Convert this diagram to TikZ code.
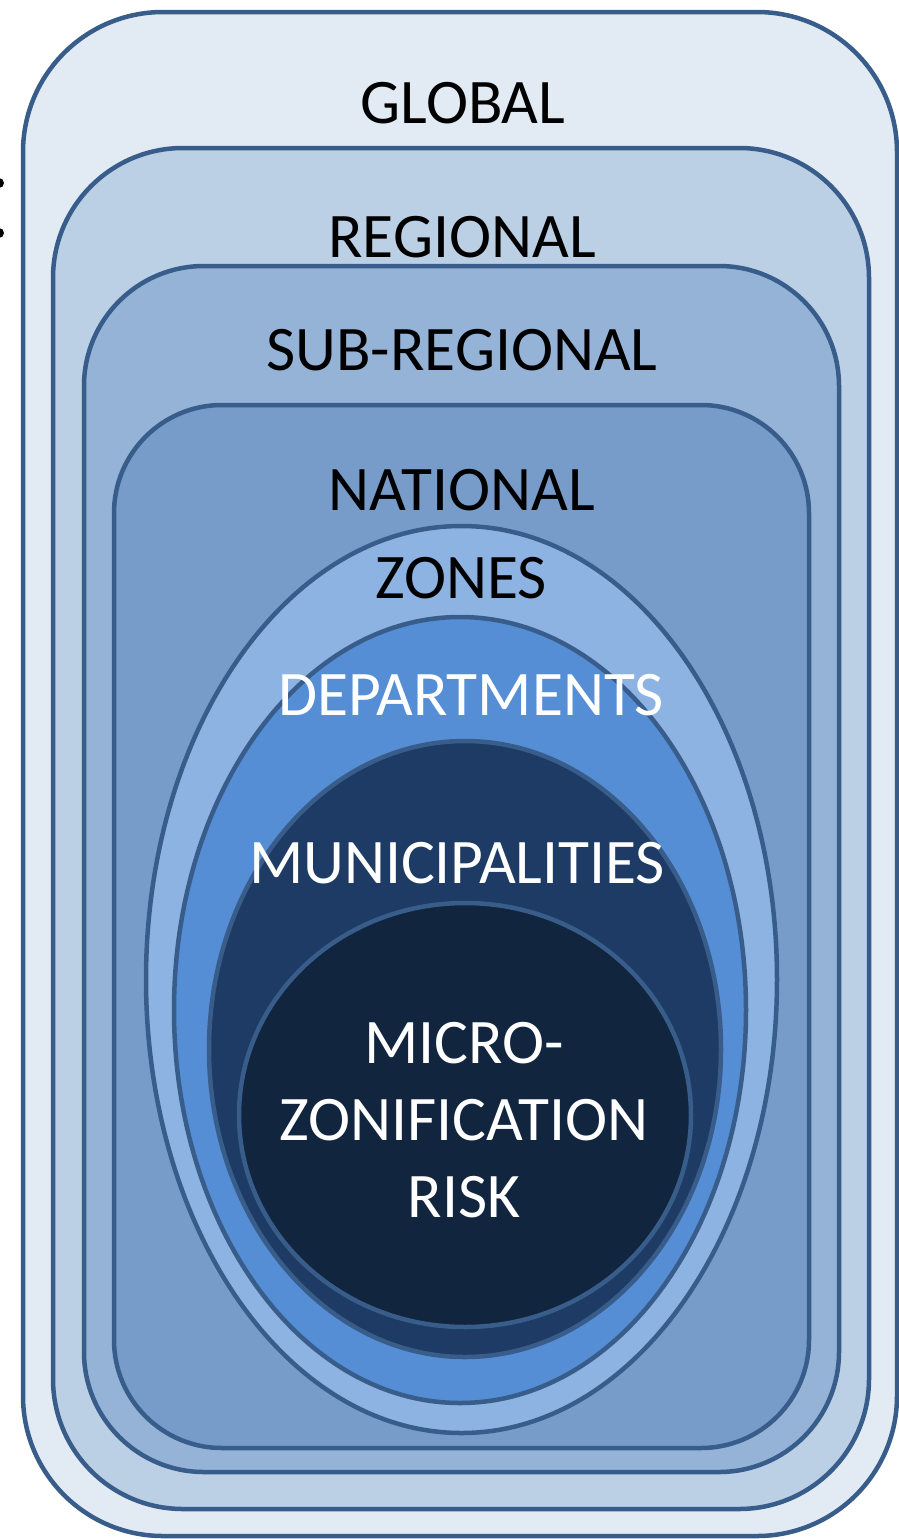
\documentclass[tikz,border=0pt]{standalone}
\usepackage{fontspec}
\setmainfont{Carlito}
\definecolor{edge}{HTML}{385D8A}
\definecolor{globalfill}{HTML}{E2EAF4}
\definecolor{regionalfill}{HTML}{BBCFE5}
\definecolor{subfill}{HTML}{95B3D7}
\definecolor{nationalfill}{HTML}{779CC9}
\definecolor{zonesfill}{HTML}{8DB3E2}
\definecolor{deptfill}{HTML}{558ED5}
\definecolor{munifill}{HTML}{1D3B64}
\definecolor{microfill}{HTML}{12253F}
\tikzset{
  level/.style={draw=edge, line width=4.5pt},
  label/.style={inner sep=0pt, anchor=base, font=\fontsize{63.5}{77}\selectfont},
  darklabel/.style={label, text=black},
  lightlabel/.style={label, text=white},
}
\begin{document}
\begin{tikzpicture}[x=1pt,y=-1pt]
\useasboundingbox (0,0) rectangle (899,1539);
% nested rounded boxes
\draw[level, fill=globalfill, rounded corners=140pt] (23,12) rectangle (897,1536);
\draw[level, fill=regionalfill, rounded corners=130pt] (53,148) rectangle (869,1509);
\draw[level, fill=subfill, rounded corners=120pt] (84,266) rectangle (839,1472);
\draw[level, fill=nationalfill, rounded corners=108pt] (114,405) rectangle (809,1448);
% nested ellipses
\draw[level, fill=zonesfill] (461.5,979.5) ellipse [x radius=315.5pt, y radius=453.5pt];
\draw[level, fill=deptfill] (460,1010) ellipse [x radius=286pt, y radius=393pt];
\draw[level, fill=munifill] (465,1049) ellipse [x radius=256pt, y radius=308pt];
\draw[level, fill=microfill] (465,1115) ellipse [x radius=226pt, y radius=212pt];
% marks at the left edge
\fill[black] (-1,183) circle [radius=5pt];
\fill[black] (-1,233) circle [radius=5pt];
% labels
\node[darklabel] (global) at (463,123) {GLOBAL};
\node[darklabel] (regional) at (462,257) {REGIONAL};
\node[darklabel] (subregional) at (462,370) {SUB-REGIONAL};
\node[darklabel] (national) at (462,510) {NATIONAL};
\node[darklabel] (zones) at (461,598) {ZONES};
\node[lightlabel] (departments) at (471,715) {DEPARTMENTS};
\node[lightlabel] (municipalities) at (457,883) {MUNICIPALITIES};
\node[lightlabel, align=center] (micro) at (464,1217) {MICRO-\\ZONIFICATION\\RISK};
\end{tikzpicture}
\end{document}
